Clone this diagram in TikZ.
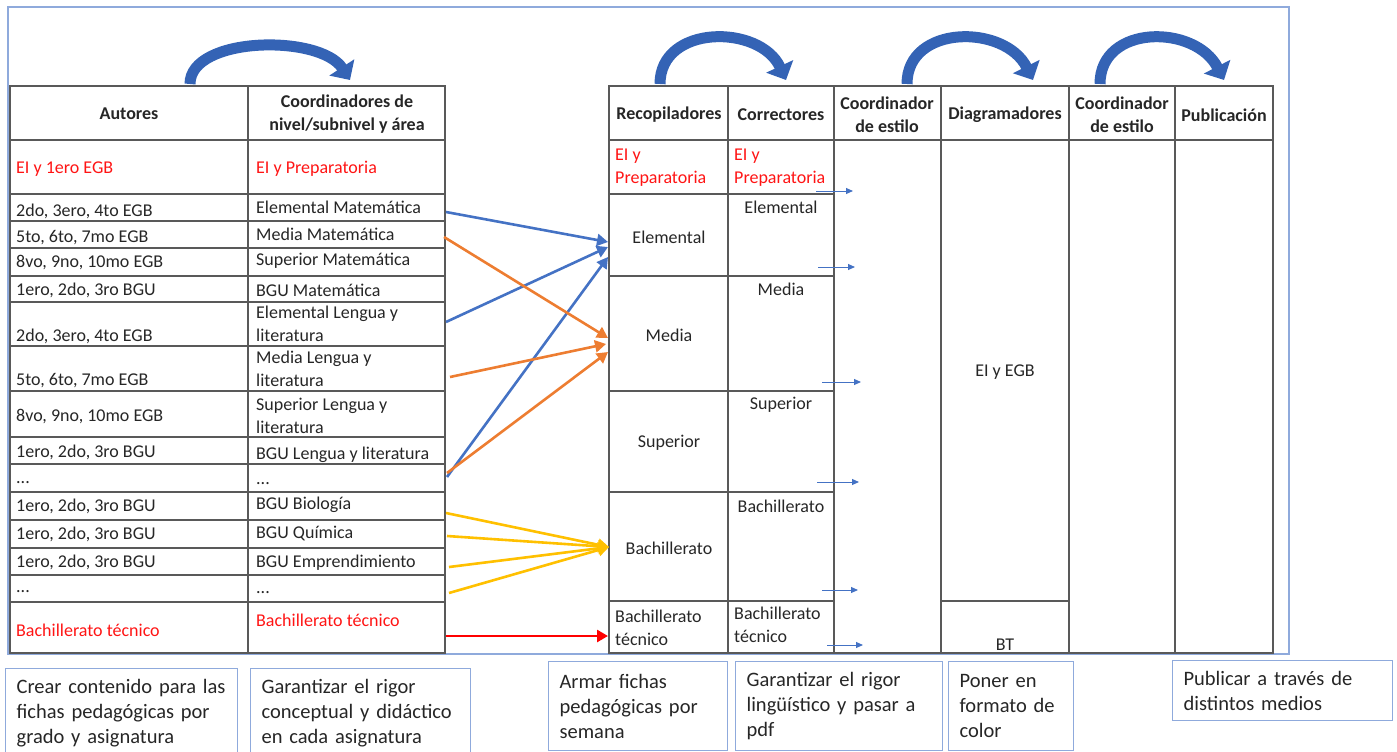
\documentclass[tikz,border=0pt]{standalone}
\usepackage{fontspec}
\setmainfont{Carlito}
\usetikzlibrary{arrows.meta}
\definecolor{arcblue}{RGB}{52,99,181}
\definecolor{arrblue}{RGB}{68,114,196}
\definecolor{arrorange}{RGB}{237,125,49}
\definecolor{arrgold}{RGB}{255,192,0}
\definecolor{frameblue}{RGB}{143,170,220}
\definecolor{tabred}{RGB}{255,20,20}
\begin{document}
\begin{tikzpicture}[x=1pt,y=-1pt,
    grid/.style={line width=1.3pt, draw=black!65},
    txt/.style={font=\fontsize{18}{23}\selectfont, inner sep=0pt, text=black!85, align=left},
    hdr/.style={txt, font=\fontsize{18}{23}\selectfont\bfseries, align=center},
    redtxt/.style={txt, text=tabred},
    note/.style={draw=frameblue, line width=1.2pt, font=\fontsize{20.5}{25}\selectfont,
      align=left, anchor=north west, inner xsep=11pt, inner ysep=0pt, text=black!85},
    bigarc/.style={arcblue, line width=11pt, -{Triangle[length=15pt,width=29pt]}},
    conn/.style={line width=2.6pt, -{Triangle[length=11pt,width=12pt]}},
    tiny/.style={arrblue, line width=1pt, -{Triangle[length=7pt,width=6pt]}}]
    \useasboundingbox (0,0) rectangle (1397,752);

    % frame
    \draw[frameblue, line width=1.2pt] (8,7) rectangle (1289,654);

    % left table
    \draw[grid] (10,86) rectangle (445,653);
    \draw[grid] (248,86) -- (248,653);
    \foreach \y in {140,194,221,248,276,302,346,391,437,464,492,520,548,575,602}
      \draw[grid] (10,\y) -- (445,\y);

    % right table
    \draw[grid] (609,86) rectangle (1273,653);
    \foreach \x in {728,834,941,1069,1175}
      \draw[grid] (\x,86) -- (\x,653);
    \draw[grid] (609,140) -- (1273,140);
    \foreach \y in {194,276,391,492,601}
      \draw[grid] (609,\y) -- (834,\y);
    \draw[grid] (941,601) -- (1069,601);

    % headers
    \node[hdr] (autores) at (129,114) {Autores};
    \node[hdr] (coordniv) at (347,114) {Coordinadores de\\nivel/subnivel y área};
    \node[hdr] (recop) at (669,115) {Recopiladores};
    \node[hdr] (correc) at (781,115) {Correctores};
    \node[hdr] (estiloA) at (887,115) {Coordinador\\de estilo};
    \node[hdr] (diagra) at (1005,115) {Diagramadores};
    \node[hdr] (estiloB) at (1122,115) {Coordinador\\de estilo};
    \node[hdr] (public) at (1224,115) {Publicación};

    % autores
    \node[redtxt, anchor=west] (au1) at (16,169) {EI y 1ero EGB};
    \node[txt, anchor=west] (au2) at (16,211) {2do, 3ero, 4to EGB};
    \node[txt, anchor=west] (au3) at (16,238) {5to, 6to, 7mo EGB};
    \node[txt, anchor=west] (au4) at (16,263) {8vo, 9no, 10mo EGB};
    \node[txt, anchor=west] (au5) at (16,290) {1ero, 2do, 3ro BGU};
    \node[txt, anchor=west] (au6) at (16,336) {2do, 3ero, 4to EGB};
    \node[txt, anchor=west] (au7) at (16,381) {5to, 6to, 7mo EGB};
    \node[txt, anchor=west] (au8) at (16,416) {8vo, 9no, 10mo EGB};
    \node[txt, anchor=west] (au9) at (16,452) {1ero, 2do, 3ro BGU};
    \node[txt, anchor=west] (au10) at (16,483) {...};
    \node[txt, anchor=west] (au11) at (16,506) {1ero, 2do, 3ro BGU};
    \node[txt, anchor=west] (au12) at (16,534) {1ero, 2do, 3ro BGU};
    \node[txt, anchor=west] (au13) at (16,562) {1ero, 2do, 3ro BGU};
    \node[txt, anchor=west] (au14) at (16,592) {...};
    \node[redtxt, anchor=west] (au15) at (16,630) {Bachillerato técnico};

    % coordinadores de nivel
    \node[redtxt, anchor=west] (co1) at (256,169) {EI y Preparatoria};
    \node[txt, anchor=west] (co2) at (256,207) {Elemental Matemática};
    \node[txt, anchor=west] (co3) at (256,234) {Media Matemática};
    \node[txt, anchor=west] (co4) at (256,261) {Superior Matemática};
    \node[txt, anchor=west] (co5) at (256,290) {BGU Matemática};
    \node[txt, anchor=west] (co6) at (256,324) {Elemental Lengua y\\literatura};
    \node[txt, anchor=west] (co7) at (256,369) {Media Lengua y\\literatura};
    \node[txt, anchor=west] (co8) at (256,416) {Superior Lengua y\\literatura};
    \node[txt, anchor=west] (co9) at (256,455) {BGU Lengua y literatura};
    \node[txt, anchor=west] (co10) at (256,484) {...};
    \node[txt, anchor=west] (co11) at (256,505) {BGU Biología};
    \node[txt, anchor=west] (co12) at (256,533) {BGU Química};
    \node[txt, anchor=west] (co13) at (256,563) {BGU Emprendimiento};
    \node[txt, anchor=west] (co14) at (256,593) {...};
    \node[redtxt, anchor=west] (co15) at (256,620) {Bachillerato técnico};

    % recopiladores
    \node[redtxt, anchor=west] (re1) at (615,168) {EI y\\Preparatoria};
    \node[txt] (re2) at (669,237) {Elemental};
    \node[txt] (re3) at (669,335) {Media};
    \node[txt] (re4) at (669,443) {Superior};
    \node[txt] (re5) at (669,548) {Bachillerato};
    \node[txt, anchor=west] (re6) at (615,628) {Bachillerato\\técnico};

    % correctores
    \node[redtxt, anchor=west] (cr1) at (734,168) {EI y\\Preparatoria};
    \node[txt] (cr2) at (781,207) {Elemental};
    \node[txt] (cr3) at (781,289) {Media};
    \node[txt] (cr4) at (781,405) {Superior};
    \node[txt] (cr5) at (781,506) {Bachillerato};
    \node[txt, anchor=west] (cr6) at (734,625) {Bachillerato\\técnico};

    % diagramadores
    \node[txt] (dg1) at (1005,372) {EI y EGB};
    \node[txt] (dg2) at (1005,645) {BT};

    % curved arrows over the headers
    \coordinate (arcA) at (190,84);  \coordinate (arcAend) at (350,80);
    \coordinate (arcB) at (660,84);  \coordinate (arcBend) at (786,80);
    \coordinate (arcC) at (907,84);  \coordinate (arcCend) at (1033,80);
    \coordinate (arcD) at (1100,84); \coordinate (arcDend) at (1224,80);
    \draw[bigarc] (arcA) .. controls (190,36) and (320,34) .. (arcAend);
    \draw[bigarc] (arcB) .. controls (660,24) and (760,24) .. (arcBend);
    \draw[bigarc] (arcC) .. controls (907,24) and (1005,24) .. (arcCend);
    \draw[bigarc] (arcD) .. controls (1100,24) and (1195,24) .. (arcDend);

    % connectors to recopiladores
    \coordinate (elemMat) at (446,212);  \coordinate (elemIn1) at (608,242);
    \coordinate (elemLen) at (446,322);  \coordinate (elemIn2) at (608,247);
    \coordinate (bguLen) at (447,477);   \coordinate (elemIn3) at (608,257);
    \coordinate (medMat) at (444,237);   \coordinate (medIn1) at (608,338);
    \coordinate (medLen) at (450,377);   \coordinate (medIn2) at (606,344);
    \coordinate (supLen) at (447,473);   \coordinate (medIn3) at (608,352);
    \coordinate (bguBio) at (446,513);
    \coordinate (bguQui) at (447,536);
    \coordinate (bguEmp) at (449,567);
    \coordinate (bguEtc) at (449,593);
    \coordinate (bachIn) at (609,547);
    \coordinate (btOut) at (446,636);    \coordinate (btIn) at (608,636);

    \draw[conn, arrblue] (elemMat) -- (elemIn1);
    \draw[conn, arrblue] (elemLen) -- (elemIn2);
    \draw[conn, arrblue] (bguLen) -- (elemIn3);
    \draw[conn, arrorange] (medMat) -- (medIn1);
    \draw[conn, arrorange] (medLen) -- (medIn2);
    \draw[conn, arrorange] (supLen) -- (medIn3);
    \foreach \s in {bguBio,bguQui,bguEmp,bguEtc}
      \draw[conn, arrgold] (\s) -- (bachIn);
    \draw[conn, red] (btOut) -- (btIn);

    % small arrows into coordinador de estilo
    \foreach \n/\xa/\xb/\y in {1/816/853/191, 2/818/855/267, 3/822/861/382,
                               4/817/859/482, 5/822/858/590, 6/827/863/645} {
      \coordinate (tinyS\n) at (\xa,\y);
      \coordinate (tinyE\n) at (\xb,\y);
      \draw[tiny] (tinyS\n) -- (tinyE\n);
    }

    % notes under the columns
    \node[note, text width=210pt, minimum height=90pt] (noteAut) at (5,668)
      {Crear contenido para las\\fichas pedagógicas por\\grado y asignatura};
    \node[note, text width=198pt, minimum height=90pt] (noteCoo) at (250,668)
      {Garantizar el rigor\\conceptual y didáctico\\en cada asignatura};
    \node[note, text width=157pt, minimum height=89pt] (noteRec) at (548,661)
      {Armar fichas\\pedagógicas por\\semana};
    \node[note, text width=185pt, minimum height=89pt] (noteCor) at (735,661)
      {Garantizar el rigor\\lingüístico y pasar a\\pdf};
    \node[note, text width=103pt, minimum height=89pt] (noteDia) at (948,661)
      {Poner en\\formato de\\color};
    \node[note, text width=198pt, minimum height=60pt] (notePub) at (1172,660)
      {Publicar a través de\\distintos medios};
\end{tikzpicture}
\end{document}
